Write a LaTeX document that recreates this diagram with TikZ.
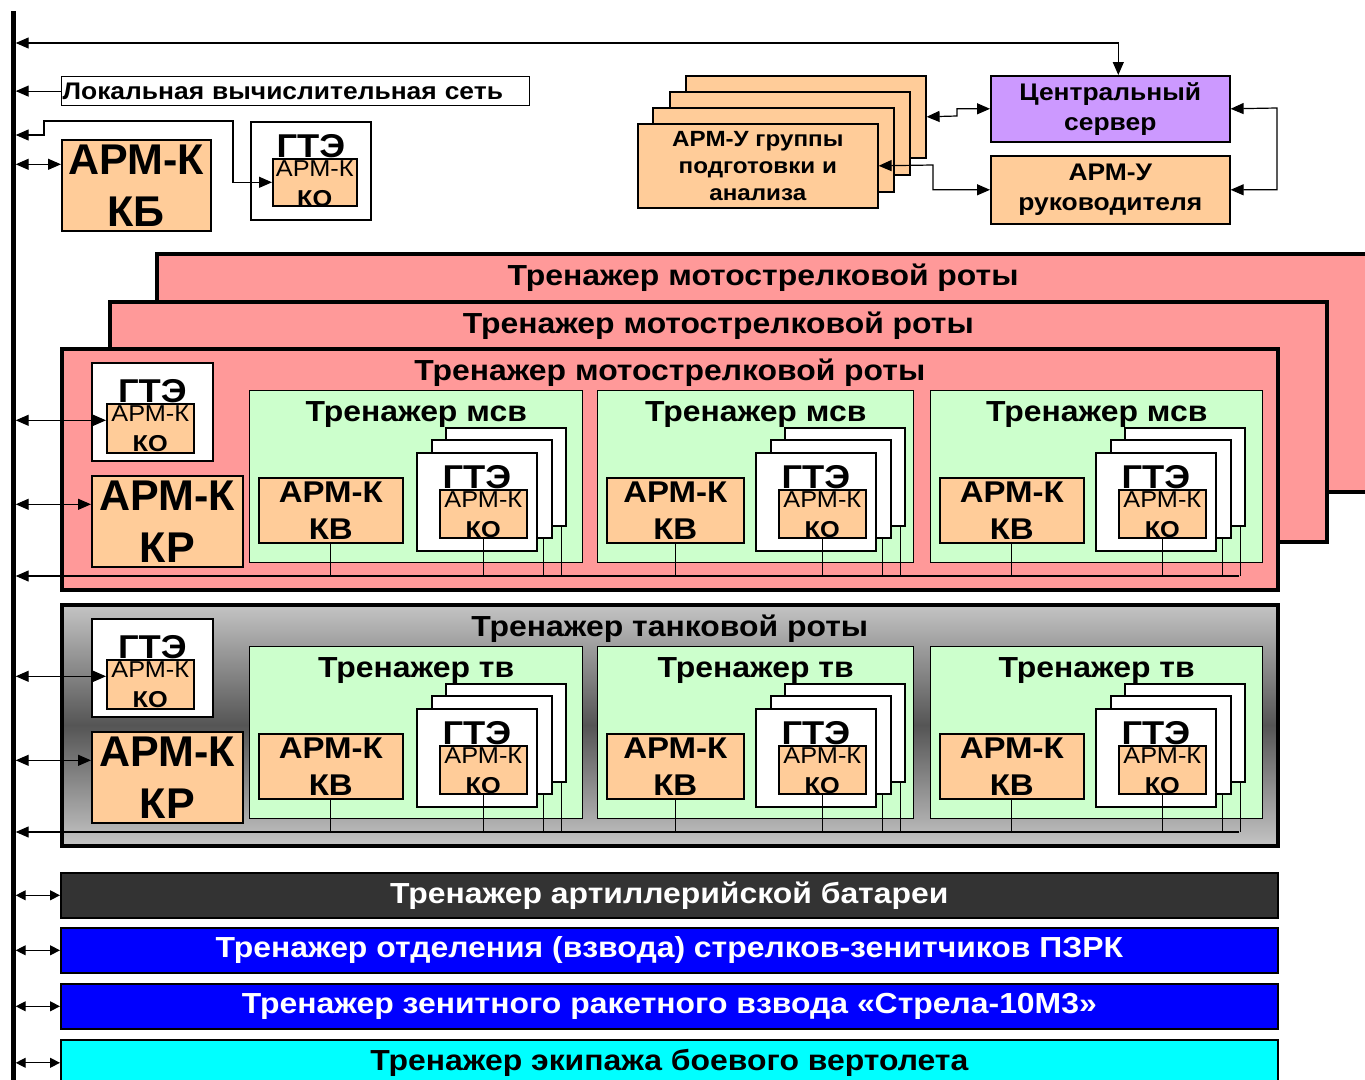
\documentclass[tikz,border=0pt]{standalone}
\usepackage{fontspec}
\setmainfont[FakeStretch=1.1]{Liberation Sans}
\newfontfamily\plainfont{Liberation Sans}
\usetikzlibrary{arrows.meta,positioning}

\definecolor{armfill}{HTML}{FFCC99}
\definecolor{srvfill}{HTML}{CC99FF}
\definecolor{rotafill}{HTML}{FF9999}
\definecolor{cellfill}{HTML}{CCFFCC}
\definecolor{artfill}{HTML}{333333}
\definecolor{pzrkfill}{HTML}{0000FF}
\definecolor{vertfill}{HTML}{00FFFF}
\definecolor{tankedge}{HTML}{C4C4C4}
\definecolor{tankmid}{HTML}{555555}

\tikzset{
  box/.style={rectangle,draw,line width=1.6pt,inner sep=0pt,anchor=north west},
  armbox/.style={box,fill=armfill},
  gtebox/.style={box,fill=white},
  rotabox/.style={box,line width=3.5pt,fill=rotafill},
  cellbox/.style={box,line width=1.4pt,fill=cellfill},
  barbox/.style={box,minimum width=1217pt,minimum height=45pt,font=\fontsize{29}{32}\selectfont\bfseries},
  link/.style={line width=1.2pt},
  arrowone/.style={link,-{Triangle[length=13pt,width=11pt]}},
  arrowtwo/.style={link,{Triangle[length=13pt,width=11pt]}-{Triangle[length=13pt,width=11pt]}},
  arrowshort/.style={link,{Triangle[length=10pt,width=10pt]}-{Triangle[length=10pt,width=10pt]}},
  wire/.style={line width=0.8pt},
  gtelabel/.style={anchor=base,font=\fontsize{33}{33}\selectfont\bfseries},
  kolabel/.style={anchor=north,inner sep=0pt,yshift=-2.5pt,align=center,font=\fontsize{23}{30}\selectfont},
  bigarm/.style={align=center,font=\plainfont\fontsize{43}{52}\selectfont\bfseries},
  midarm/.style={align=center,font=\fontsize{30}{37}\selectfont\bfseries},
  rotatitle/.style={anchor=base,font=\fontsize{29}{29}\selectfont\bfseries},
}

% one company trainer: #1 name, #2 fill, #3 title, #4 cell title
\newcommand{\company}[4]{%
  \node[rotabox,#2,minimum width=1216pt,minimum height=241pt] (#1) at (60,347) {};
  \node[rotatitle] (#1title) at ([yshift=-33pt]#1.north) {#3};
  \node[gtebox,minimum width=121pt,minimum height=98pt] (#1gte) at (91,362) {};
  \node[gtelabel] (#1gtel) at ([yshift=-40pt]#1gte.north) {ГТЭ};
  \node[armbox,minimum width=87pt,minimum height=49pt] (#1ko) at (106,403) {};
  \node[kolabel] (#1kot) at (#1ko.north) {АРМ-К\\\bfseries КО};
  \node[armbox,bigarm,minimum width=151pt,minimum height=91pt] (#1kr) at (91,475) {АРМ-К\\КР};
  \coordinate (#1end) at (1239,576);
  \foreach \cx/\cw/\kw/\gx [count=\i] in {249/333/144/416,597/316/137/755,930/332/144/1095}{
    \node[cellbox,minimum width=\cw pt,minimum height=172pt] (#1c\i) at (\cx,390) {};
    \node[rotatitle] (#1ct\i) at ([yshift=-31pt]#1c\i.north) {#4};
    \node[armbox,midarm,minimum width=\kw pt,minimum height=65pt] (#1kv\i) at (\cx+9,477) {АРМ-К\\КВ};
    \node[gtebox,minimum width=120pt,minimum height=98pt] (#1gb\i) at (\gx+29,427) {};
    \node[gtebox,minimum width=120pt,minimum height=98pt] (#1gs\i) at (\gx+15,439) {};
    \node[gtebox,minimum width=120pt,minimum height=98pt] (#1gf\i) at (\gx,452) {};
    \node[gtelabel] (#1gl\i) at ([yshift=-36pt]#1gf\i.north) {ГТЭ};
    \node[armbox,minimum width=87pt,minimum height=48pt] (#1gk\i) at (\gx+23,489) {};
    \node[kolabel] (#1gkt\i) at (#1gk\i.north) {АРМ-К\\\bfseries КО};
    \coordinate (#1sx\i) at ([xshift=-9pt]#1gs\i.south east);
    \coordinate (#1bx\i) at ([xshift=-5pt]#1gb\i.south east);
    \draw[wire] (#1kv\i.south) -- (#1kv\i.south |- #1end);
    \draw[wire] (#1gk\i.south) -- (#1gk\i.south |- #1end);
    \draw[wire] (#1sx\i) -- (#1sx\i |- #1end);
    \draw[wire] (#1bx\i) -- (#1bx\i |- #1end);
  }
  \coordinate (#1koin) at ([yshift=8pt]#1ko.west);
  \coordinate (#1krin) at ([yshift=17pt]#1kr.west);
  \draw[arrowtwo] (bus.east |- #1koin) -- (#1koin);
  \draw[arrowtwo] (bus.east |- #1krin) -- (#1krin);
  \draw[arrowone] (#1end) -- (bus.east |- #1end);
}

\begin{document}
\begin{tikzpicture}[x=1pt,y=-1pt]
\useasboundingbox (0,0) rectangle (1365,1079);

% network bus
\node[fill=black,inner sep=0pt,minimum width=5pt,minimum height=1080pt,anchor=north] (bus) at (13,11) {};

% upper level
\node[box,line width=1.2pt,minimum height=29pt,text width=466pt,inner xsep=1pt,align=left,
  font=\fontsize{24}{24}\selectfont\bfseries] (lvs) at (61,76) {Локальная вычислительная сеть};
\node[armbox,bigarm,minimum width=149pt,minimum height=91pt] (kb) at (61,139) {АРМ-К\\КБ};
\node[gtebox,minimum width=120pt,minimum height=98pt] (kbgte) at (250,121) {};
\node[gtelabel] (kbgtel) at ([yshift=-36pt]kbgte.north) {ГТЭ};
\node[armbox,minimum width=84pt,minimum height=47pt] (kbko) at (272,158) {};
\node[kolabel] (kbkot) at (kbko.north) {АРМ-К\\\bfseries КО};

\node[armbox,minimum width=240pt,minimum height=82pt] (ag4) at (685,75) {};
\node[armbox,minimum width=240pt,minimum height=83pt] (ag3) at (669,91) {};
\node[armbox,minimum width=241pt,minimum height=84pt] (ag2) at (652,107) {};
\node[armbox,align=center,font=\fontsize{22}{27}\selectfont\bfseries,minimum width=240pt,minimum height=84pt] (ag1) at (637,123)
  {АРМ-У группы\\подготовки и\\анализа};
\node[armbox,fill=srvfill,align=center,font=\fontsize{24}{30}\selectfont\bfseries,minimum width=239pt,minimum height=66pt] (srv) at (990,75)
  {Центральный\\сервер};
\node[armbox,align=center,font=\fontsize{24}{30}\selectfont\bfseries,minimum width=239pt,minimum height=68pt] (ruk) at (990,155)
  {АРМ-У\\руководителя};

\coordinate (topline) at (0,43);
\coordinate (gteline) at (0,135);
\coordinate (kbin) at ([yshift=21pt]kb.west);
\draw[arrowtwo] (bus.east |- topline) -| ([xshift=8pt]srv.north);
\draw[arrowone] (lvs.west) -- (bus.east |- lvs.west);
\draw[arrowtwo] (bus.east |- kbin) -- (kbin);
\draw[arrowtwo] (bus.east |- gteline) -| (44,121) -- (233,121) |- (kbko.west);
\draw[arrowtwo] (ag4.east) -- (957,116) |- (srv.west);
\draw[arrowtwo] (ag1.east) -- (933,165) |- (ruk.west);
\draw[arrowtwo] (srv.east) -- (1277,108) |- (ruk.east);

% motor rifle companies
\node[rotabox,minimum width=1235pt,minimum height=238pt] (rotaC) at (155,252) {};
\node[rotatitle] (rotaCt) at (763,285) {Тренажер мотострелковой роты};
\node[rotabox,minimum width=1217pt,minimum height=240pt] (rotaB) at (108,300) {};
\node[rotatitle] (rotaBt) at ([yshift=-33pt]rotaB.north) {Тренажер мотострелковой роты};
\company{msr}{}{Тренажер мотострелковой роты}{Тренажер мсв}

% tank company
\begin{scope}[yshift=-256pt]
\company{tr}{top color=tankedge,bottom color=tankedge,middle color=tankmid}{Тренажер танковой роты}{Тренажер тв}
\end{scope}

% other trainers
\node[barbox,fill=artfill,text=white] (art) at (60,872) {Тренажер артиллерийской батареи};
\node[barbox,fill=pzrkfill,text=white] (pzrk) at (60,927) {Тренажер отделения (взвода) стрелков-зенитчиков ПЗРК};
\node[barbox,fill=pzrkfill,text=white] (strela) at (60,983) {Тренажер зенитного ракетного взвода «Стрела-10М3»};
\node[barbox,fill=vertfill,minimum height=46pt] (vert) at (60,1039) {Тренажер экипажа боевого вертолета};
\foreach \b in {art,pzrk,strela,vert}
  \draw[arrowshort] (bus.east |- \b.west) -- (\b.west);
\end{tikzpicture}
\end{document}
